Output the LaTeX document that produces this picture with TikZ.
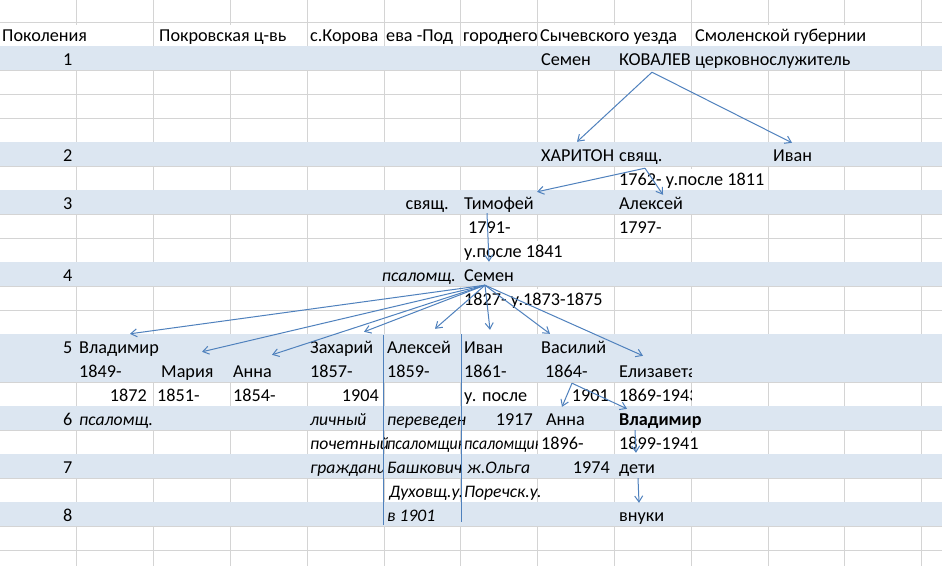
\documentclass[tikz,border=0pt]{standalone}
\usepackage{fontspec}
\setmainfont{Carlito}
\usetikzlibrary{arrows.meta}
\definecolor{band}{RGB}{220,230,241}
\definecolor{gridgray}{RGB}{212,212,212}
\definecolor{linkblue}{RGB}{79,129,189}
\begin{document}
\begin{tikzpicture}[x=1pt,y=-1pt,
        cell/.style={anchor=base west,inner sep=0pt,text height=12pt,text depth=4pt,font=\fontsize{18.2}{20}\selectfont},
        num/.style={cell,anchor=base east},
        spill/.style={cell,fill=white,text height=17pt,text depth=4pt},
        note/.style={cell,font=\fontsize{17.6}{20}\selectfont\itshape},
        narrow/.style={note,font=\fontsize{17.6}{20}\selectfont\itshape\addfontfeature{FakeStretch=0.9}},
        link/.style={linkblue,line width=1pt,-{Straight Barb[length=6pt,width=8pt]}}]
        \useasboundingbox (0,0) rectangle (942,566);
        \fill[white] (0,0) rectangle (942,566);

        % Draw the sheet grid
        \foreach \x in {1,...,12} {
            \draw[gridgray,line width=1pt] (\x*76.8,0) -- (\x*76.8,566);
        }
        \foreach \y in {22,46,...,550} {
            \draw[gridgray,line width=1pt] (0,\y) -- (942,\y);
        }

        % Shaded generation rows
        \foreach \t/\b in {46/70,142/166,190/214,262/286,334/382,406/430,454/478,502/526} {
            \fill[band] (0,\t) rectangle (942,\b);
        }

        % Header
        \node[spill] (hgen) at (2,41.5) {Поколения}; \node[spill] (hchurch) at (159,41.5) {Покровская ц-вь};
        \node[cell] (hvil) at (310,41.5) {с.Корова}; \node[cell] (hvil2) at (386,41.5) {ева -Под};
        \node[cell] (hvil3) at (463,41.5) {город}; \node[cell] (hvil4) at (503,41.5) {него};
        \node[spill] (huezd) at (540,41.5) {Сычевского уезда}; \node[spill] (hgub) at (695,41.5) {Смоленской губернии};

        % Generations 1-4
        \node[num] (g1) at (72.5,65.5) {1}; \node[cell] (semen1) at (541,65.5) {Семен};
        \node[cell] (kovalev) at (619,65.5) {КОВАЛЕВ}; \node[cell] (church1) at (695,65.5) {церковнослужитель};

        \node[num] (g2) at (72.5,161.5) {2}; \node[cell] (khariton) at (541,161.5) {ХАРИТОН};
        \node[cell] (priest2) at (619,161.5) {свящ.}; \node[cell] (ivan2) at (773,161.5) {Иван};
        \node[spill] (dates2) at (619,185.5) {1762- у.после 1811};

        \node[num] (g3) at (72.5,209.5) {3}; \node[num] (priest3) at (449,209.5) {свящ.};
        \node[cell] (timofey) at (464,209.5) {Тимофей}; \node[cell] (aleksey3) at (619,209.5) {Алексей};
        \node[cell] (born3a) at (468,233.5) {1791-}; \node[cell] (born3b) at (619,233.5) {1797-};
        \node[spill] (died3) at (464,257.5) {у.после 1841};

        \node[num] (g4) at (72.5,281.5) {4}; \node[num,font=\fontsize{17.6}{20}\selectfont\itshape] (psalm4) at (456,281.5) {псаломщ.};
        \node[cell] (semen4) at (464,281.5) {Семен}; \node[spill] (dates4) at (464,305.5) {1827- у.1873-1875};

        % Generation 5
        \node[num] (g5) at (72.5,353.5) {5}; \node[cell] (vladimir5) at (79,353.5) {Владимир};
        \node[cell] (zakhar) at (310,353.5) {Захарий}; \node[cell] (aleksey5) at (387,353.5) {Алексей};
        \node[cell] (ivan5) at (464,353.5) {Иван}; \node[cell] (vasiliy) at (541,353.5) {Василий};

        \node[cell] (born5a) at (79,377.5) {1849-}; \node[cell] (mariya) at (161,377.5) {Мария};
        \node[cell] (anna5) at (233,377.5) {Анна}; \node[cell] (born5b) at (310,377.5) {1857-};
        \node[cell] (born5c) at (387,377.5) {1859-}; \node[cell] (born5d) at (464,377.5) {1861-};
        \node[cell] (born5e) at (545,377.5) {1864-};

        \node[num] (died5a) at (147,401.5) {1872}; \node[cell] (born5f) at (157,401.5) {1851-};
        \node[cell] (born5g) at (233,401.5) {1854-}; \node[num] (died5b) at (379,401.5) {1904};
        \node[cell] (died5c) at (464,401.5) {у. после}; \node[num] (died5d) at (609,401.5) {1901};
        \begin{scope}
            \clip (614.4,334) rectangle (691.2,406);
            \node[cell] (elizaveta) at (619,377.5) {Елизавета}; \node[cell] (dates5) at (619,401.5) {1869-1943};
        \end{scope}

        % Generations 6-8
        \node[num] (g6) at (72.5,425.5) {6}; \node[note] (psalm6) at (79,425.5) {псаломщ.};
        \node[note] (lichny) at (310,425.5) {личный}; \node[note] (pereveden) at (387,425.5) {переведен};
        \node[num] (died6) at (533,425.5) {1917}; \node[cell] (anna6) at (546,425.5) {Анна};
        \node[cell,font=\fontsize{18.2}{20}\selectfont\bfseries] (vladimir6) at (619,425.5) {Владимир};

        \node[note] (pochet) at (310,449.5) {почетный};
        \begin{scope}
            \clip (384,430) rectangle (460.8,454);
            \node[narrow] (psalm6a) at (387,449.5) {псаломщик};
        \end{scope}
        \begin{scope}
            \clip (460.8,430) rectangle (537.6,454);
            \node[narrow] (psalm6b) at (464,449.5) {псаломщик};
        \end{scope}
        \node[cell] (born6a) at (541,449.5) {1896-}; \node[spill] (dates6) at (619,449.5) {1899-1941};

        \node[num] (g7) at (72.5,473.5) {7};
        \begin{scope}
            \clip (307.2,454) rectangle (383,478);
            \node[note] (grazhd) at (310,473.5) {гражданин};
        \end{scope}
        \begin{scope}
            \clip (384,454) rectangle (460.8,478);
            \node[note] (bashk) at (387,473.5) {Башковичи};
        \end{scope}
        \node[note] (olga) at (467,473.5) {ж.Ольга}; \node[num] (died6a) at (610,473.5) {1974};
        \node[cell] (deti) at (619,473.5) {дети};

        \node[note] (dukh) at (389,497.5) {Духовщ.у.}; \node[note] (porech) at (464,497.5) {Поречск.у.};

        \node[num] (g8) at (72.5,521.5) {8}; \node[note] (v1901) at (387,521.5) {в 1901};
        \node[cell] (vnuki) at (619,521.5) {внуки};

        % Separators under Aleksei and Ivan
        \draw[linkblue,line width=1pt] (383,335) -- (383,525);
        \draw[linkblue,line width=1pt] (461,334) -- (461,522);

        % Family links
        \coordinate (kovhub) at ([xshift=33pt,yshift=-2.5pt]kovalev.south west);
        \coordinate (kharhub) at ([xshift=26pt,yshift=-2.5pt]priest2.south west);
        \coordinate (semhub) at ([xshift=21pt,yshift=0.5pt]semen4.south west);
        \coordinate (vashub) at ([xshift=27pt,yshift=-1.5pt]born5e.south west);

        \draw[link] (kovhub) -- ([xshift=36pt,yshift=7.5pt]khariton.north west);
        \draw[link] (kovhub) -- ([xshift=19pt,yshift=6.5pt]ivan2.north west);
        \draw[link] (kharhub) -- ([xshift=73pt,yshift=5.5pt]timofey.north west);
        \draw[link] (kharhub) -- ([xshift=44pt,yshift=2.5pt]aleksey3.north west);
        \draw[link] ([xshift=23pt,yshift=0.5pt]timofey.south west) -- ([xshift=25pt,yshift=7.5pt]semen4.north west);

        \draw[link] (semhub) -- ([xshift=51pt,yshift=7.5pt]vladimir5.north west);
        \draw[link] (semhub) -- ([xshift=41pt,yshift=13.5pt]mariya.north west);
        \draw[link] (semhub) -- ([xshift=39pt,yshift=10.5pt]anna5.north west);
        \draw[link] (semhub) -- ([xshift=54pt,yshift=9.5pt]zakhar.north west);
        \draw[link] (semhub) -- ([xshift=48pt,yshift=12.5pt]aleksey5.north west);
        \draw[link] (semhub) -- ([xshift=26pt,yshift=11.5pt]ivan5.north west);
        \draw[link] (semhub) -- ([xshift=9pt,yshift=7.5pt]vasiliy.north west);
        \draw[link] (semhub) -- ([xshift=24pt,yshift=9.5pt]elizaveta.north west);

        \draw[link] (vashub) -- ([xshift=16pt,yshift=6.5pt]anna6.north west);
        \draw[link] (vashub) -- ([xshift=8pt,yshift=4.5pt]vladimir6.north west);
        \draw[link] ([xshift=16pt,yshift=-0.5pt]vladimir6.south west) -- ([xshift=17pt,yshift=8.5pt]deti.north west);
        \draw[link] ([xshift=19pt,yshift=-0.5pt]deti.south west) -- ([xshift=20pt,yshift=6.5pt]vnuki.north west);
    \end{tikzpicture}
\end{document}
